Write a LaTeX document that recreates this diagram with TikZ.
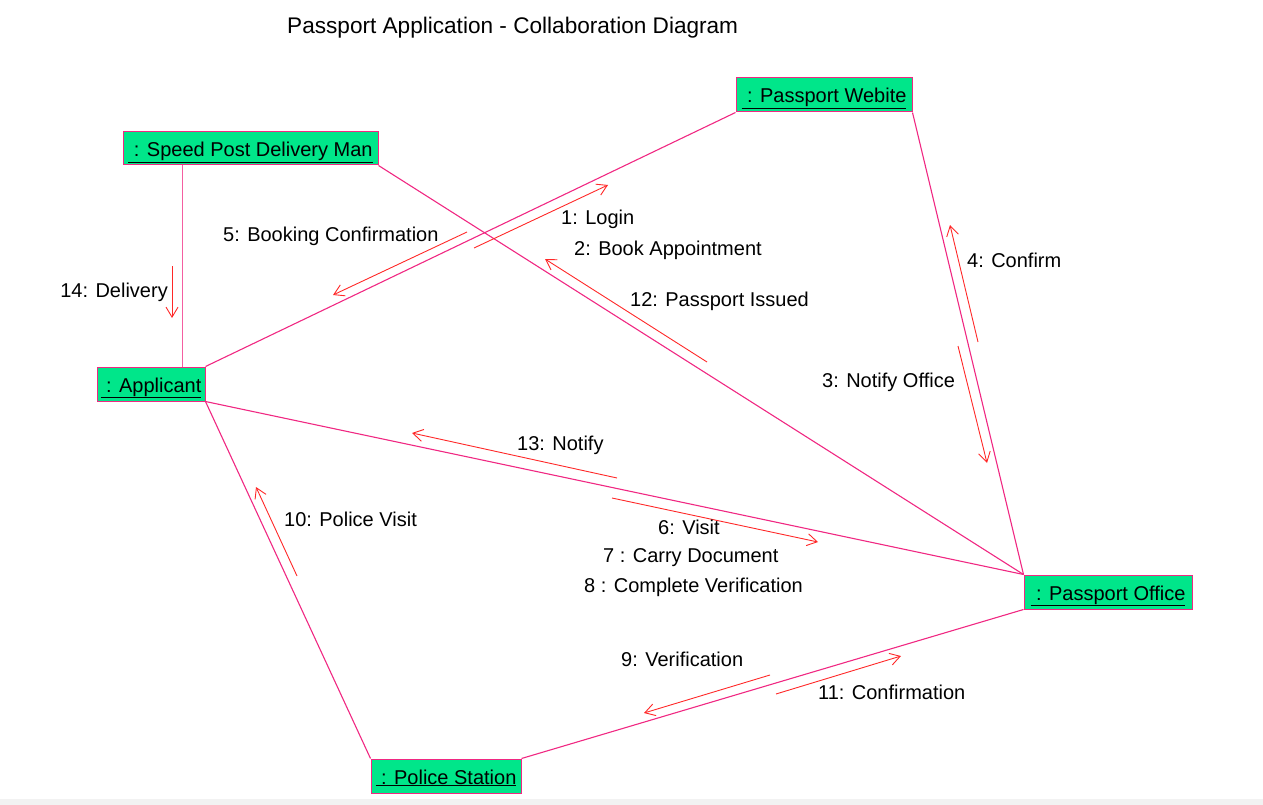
\documentclass[tikz,border=0pt]{standalone}
\usepackage{fontspec}
\setmainfont{Liberation Sans}
\usetikzlibrary{arrows.meta}
\definecolor{lnk}{RGB}{240,40,130}
\definecolor{msg}{RGB}{255,40,40}
\definecolor{obj}{RGB}{0,230,138}
\begin{document}
\begin{tikzpicture}[x=1pt,y=-1pt,
  objbox/.style={draw=lnk,fill=obj,line width=1pt,inner sep=0pt,minimum height=34pt,text height=16pt,text depth=0pt,font=\fontsize{20}{24}\selectfont},
  link/.style={draw=lnk,line width=1.1pt},
  msgarrow/.style={draw=msg,line width=0.9pt,-{Straight Barb[length=10pt,width=12pt]}},
  lbl/.style={font=\fontsize{20}{24}\selectfont,inner sep=0pt,anchor=base west},
  lble/.style={font=\fontsize{20}{24}\selectfont,inner sep=0pt,anchor=base east}]
\useasboundingbox (0,0) rectangle (1263,805);
\fill[black!5] (0,799) rectangle (1263,805);

% title
\node[font=\fontsize{22.6}{27}\selectfont,inner sep=0pt,anchor=base west] (title) at (287,34) {Passport Application - Collaboration Diagram};

% objects
\node[objbox,minimum width=255pt,minimum height=33pt] (sp) at (250.5,148.5) {\underline{\ : Speed Post Delivery Man}};
\node[objbox,minimum width=176pt] (web) at (824,95) {\underline{\ : Passport Webite}};
\node[objbox,minimum width=108pt] (app) at (151,384) {\underline{\ : Applicant}};
\node[objbox,minimum width=168pt] (po) at (1108,592) {\underline{\ : Passport Office}};
\node[objbox,minimum width=150pt] (ps) at (446,776) {\underline{\ : Police Station}};

% links
\draw[link,draw=lnk!75,line width=1pt] ([xshift=31.5pt]app.north) -- ([xshift=31.5pt]app.north |- sp.south);
\draw[link] (app.north east) -- (web.south west);
\draw[link] (sp.south east) -- (po.north west);
\draw[link] (web.south east) -- (po.north west);
\draw[link] (app.south east) -- (po.north west);
\draw[link] (app.south east) -- (ps.north west);
\draw[link] (ps.north east) -- (po.south west);

% message arrow endpoints
\coordinate (m14a) at (172,266); \coordinate (m14b) at (172,318);
\coordinate (m5a) at (467,232);  \coordinate (m5b) at (333,295);
\coordinate (m1a) at (474,248);  \coordinate (m1b) at (608,185);
\coordinate (m12a) at (707,362); \coordinate (m12b) at (545,259);
\coordinate (m4a) at (978,342);  \coordinate (m4b) at (950,225);
\coordinate (m3a) at (958,346);  \coordinate (m3b) at (987,463);
\coordinate (m13a) at (617,478); \coordinate (m13b) at (412,433);
\coordinate (m6a) at (612,498);  \coordinate (m6b) at (818,542);
\coordinate (m10a) at (297,576); \coordinate (m10b) at (256,487);
\coordinate (m9a) at (770,675);  \coordinate (m9b) at (644,713);
\coordinate (m11a) at (776,694); \coordinate (m11b) at (901,656);

\draw[msgarrow] (m14a) -- (m14b);
\draw[msgarrow] (m5a) -- (m5b);
\draw[msgarrow] (m1a) -- (m1b);
\draw[msgarrow] (m12a) -- (m12b);
\draw[msgarrow] (m4a) -- (m4b);
\draw[msgarrow] (m3a) -- (m3b);
\draw[msgarrow] (m13a) -- (m13b);
\draw[msgarrow] (m6a) -- (m6b);
\draw[msgarrow] (m10a) -- (m10b);
\draw[msgarrow] (m9a) -- (m9b);
\draw[msgarrow] (m11a) -- (m11b);

% labels
\node[lble] (l14) at (168,297) {14: Delivery};
\node[lbl] (l5) at (223,241) {5: Booking Confirmation};
\node[lbl] (l1) at (561,225) {1: Login};
\node[lbl] (l2) at (574,255) {2: Book Appointment};
\node[lbl] (l12) at (630,306) {12: Passport Issued};
\node[lbl] (l4) at (967,267) {4: Confirm};
\node[lbl] (l3) at (822,387) {3: Notify Office};
\node[lbl] (l13) at (517,450) {13: Notify};
\node[lbl] (l10) at (284,526) {10: Police Visit};
\node[lbl] (l6) at (658,534) {6: Visit};
\node[lbl] (l7) at (603,562) {7 : Carry Document};
\node[lbl] (l8) at (584,592) {8 : Complete Verification};
\node[lbl] (l9) at (621,666) {9: Verification};
\node[lbl] (l11) at (818,699) {11: Confirmation};
\end{tikzpicture}
\end{document}
